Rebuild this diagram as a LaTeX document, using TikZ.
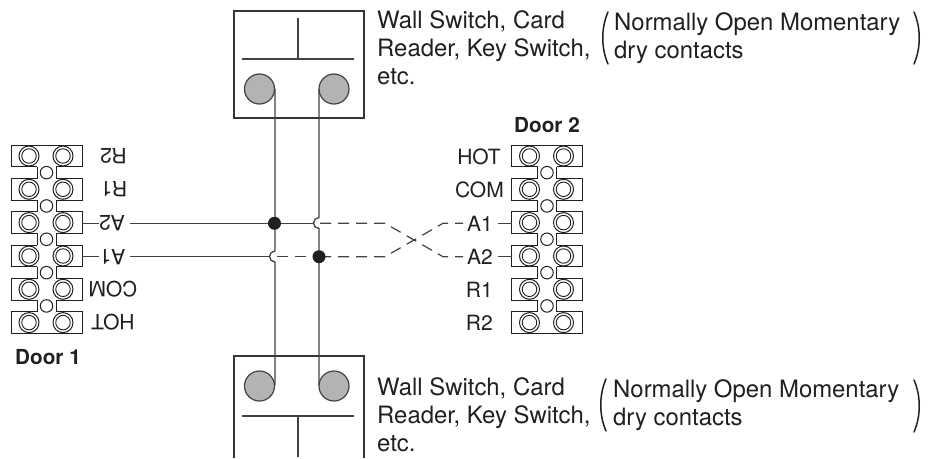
\documentclass[tikz,border=0pt]{standalone}
\usepackage{fontspec}
\setmainfont{TeX Gyre Heros}
\definecolor{ink}{HTML}{231F20}
\definecolor{disc}{HTML}{B3B3B3}
\tikzset{
  wire/.style={draw=ink!85,line width=1.3pt},
  dashwire/.style={draw=ink!85,line width=1.2pt,dash pattern=on 11pt off 7pt},
  frame/.style={draw=ink!90,line width=2pt},
  cell/.style={draw=ink,line width=1pt,fill=white},
  ring/.style={draw=ink,line width=1pt,fill=white,circle,minimum size=20pt,inner sep=0pt},
  ringin/.style={draw=ink,line width=.9pt,circle,minimum size=14.5pt,inner sep=0pt},
  hole/.style={draw=ink,line width=1pt,fill=white,circle,minimum size=12.5pt,inner sep=0pt},
  disk/.style={draw=ink!85,line width=1.2pt,fill=disc,circle,minimum size=30pt,inner sep=0pt},
  dotn/.style={fill=ink,circle,minimum size=13pt,inner sep=0pt},
  lab/.style={font=\fontsize{23.9}{28}\selectfont,align=left,anchor=base west,inner sep=0pt,text=ink},
  tlab/.style={font=\fontsize{21}{24}\selectfont,inner sep=0pt,text=ink},
  blab/.style={font=\fontsize{20.7}{24}\selectfont\bfseries,inner sep=0pt,text=ink},
  paren/.style={draw=ink,line width=1.5pt,line cap=round},
}
\newcommand{\strip}[1]{%
  \foreach \yy in {156,189.3,222.6,256,289.3,322.6}{
    \path[cell] (#1,\yy-10.7) -- ++(71,0) -- ++(0,21.4) -- ++(-71,0) -- cycle;
  }
  \foreach \yy in {156,189.3,222.6,256,289.3}{
    \fill[white] (#1+26,\yy+9) rectangle (#1+45,\yy+25);
    \draw[ink,line width=1pt] (#1+26,\yy+10.7) -- (#1+26,\yy+22.6) (#1+45,\yy+10.7) -- (#1+45,\yy+22.6);
    \node[hole] at (#1+35.5,\yy+16.65) {};
  }
  \foreach \yy in {156,189.3,222.6,256,289.3,322.6}{
    \foreach \xx in {18,52}{
      \node[ring] at (#1+\xx,\yy) {};
      \node[ringin] at (#1+\xx,\yy) {};
    }
  }
}
\begin{document}
\begin{tikzpicture}[x=1pt,y=-1pt]
\useasboundingbox (0,0) rectangle (932,458);
\fill[white] (0,0) rectangle (932,458);

% switch boxes
\draw[frame] (233.5,118) -- (233.5,11) -- (364,11) -- (364,118) -- cycle;
\draw[wire] (242,59) -- (354,59) (298,18) -- (298,59);
\node[disk] (d1) at (259.5,89) {};
\node[disk] (d2) at (334,89) {};

\draw[frame] (233.5,458) -- (233.5,356) -- (364,356) -- (364,458);
\draw[wire] (242,416) -- (354,416) (298,416) -- (298,457);
\node[disk] (d3) at (259.5,386) {};
\node[disk] (d4) at (334,386) {};

% terminal strips
\strip{11}
\strip{511.5}

% verticals with hops
\coordinate (v1t) at (275,89);
\coordinate (v1a) at (275,251);
\coordinate (v1e) at (275,385);
\coordinate (v2t) at (319,89);
\coordinate (v2a) at (319,217.5);
\coordinate (v2e) at (319,385);
\draw[wire] (v1t) -- (v1a) arc[start angle=90,end angle=270,radius=5.5pt] -- (v1e);
\draw[wire] (v2t) -- (v2a) arc[start angle=90,end angle=270,radius=5.5pt] -- (v2e);

% left labels (upside down)
\foreach \t/\cx/\yy in {R2/113.5/156,R1/114/189.3,A2/112/223.3,A1/112.5/256.7,COM/113/289.3,HOT/113/322.6}{
  \node[tlab,rotate=180] (L\t) at (\cx,\yy) {\t};
}
% right labels
\node[tlab,anchor=east] (RHOT) at (501,157) {HOT};
\node[tlab,anchor=east] (RCOM) at (504,190) {COM};
\node[tlab,anchor=east] (RA1) at (493,223.5) {A1};
\node[tlab,anchor=east] (RA2) at (493,257) {A2};
\node[tlab,anchor=east] (RR1) at (493,290) {R1};
\node[tlab,anchor=east] (RR2) at (493,323) {R2};
\node[blab] (D1) at (48,357) {Door 1};
\node[blab] (D2) at (547,125) {Door 2};

% signal wires
\coordinate (la) at (82,223.3);
\coordinate (lb) at (82,256.7);
\coordinate (ra) at (511.5,223.3);
\coordinate (rb) at (511.5,256.7);
\coordinate (ja) at (314,223.3);
\coordinate (jb) at (270,256.7);
\draw[wire] (la) -- (LA2.east |- la);
\draw[wire] (lb) -- (LA1.east |- lb);
\draw[wire] ([xshift=4.5pt]LA2.west |- la) -- (ja);
\draw[wire] ([xshift=4.5pt]LA1.west |- lb) -- (jb);
\draw[wire] ([xshift=5pt]RA1.east |- ra) -- (ra);
\draw[wire] ([xshift=5pt]RA2.east |- rb) -- (rb);
\draw[dashwire] (320,223.3) -- (385,223.3) -- (443,256.7) -- (463,256.7);
\draw[dashwire] (277,256.7) -- (314,256.7);
\draw[dashwire] (320,256.7) -- (385,256.7) -- (443,223.3) -- (463,223.3);

\node[dotn] (j1) at (274.5,223.3) {};
\node[dotn] (j2) at (319,256.7) {};

% captions
\node[lab] (c1) at (377,84) {Wall Switch, Card\\Reader, Key Switch,\\etc.};
\node[lab] (c2) at (377,451) {Wall Switch, Card\\Reader, Key Switch,\\etc.};
\node[lab] (c3) at (614,58) {Normally Open Momentary\\dry contacts};
\node[lab] (c4) at (613,425) {Normally Open Momentary\\dry contacts};
\draw[paren] (608,12) .. controls (601,28) and (601,48) .. (608,64);
\draw[paren] (914,12) .. controls (921,28) and (921,48) .. (914,64);
\draw[paren] (606,379) .. controls (599,395) and (599,415) .. (606,431);
\draw[paren] (914,380) .. controls (921,396) and (921,416) .. (914,432);
\end{tikzpicture}
\end{document}
